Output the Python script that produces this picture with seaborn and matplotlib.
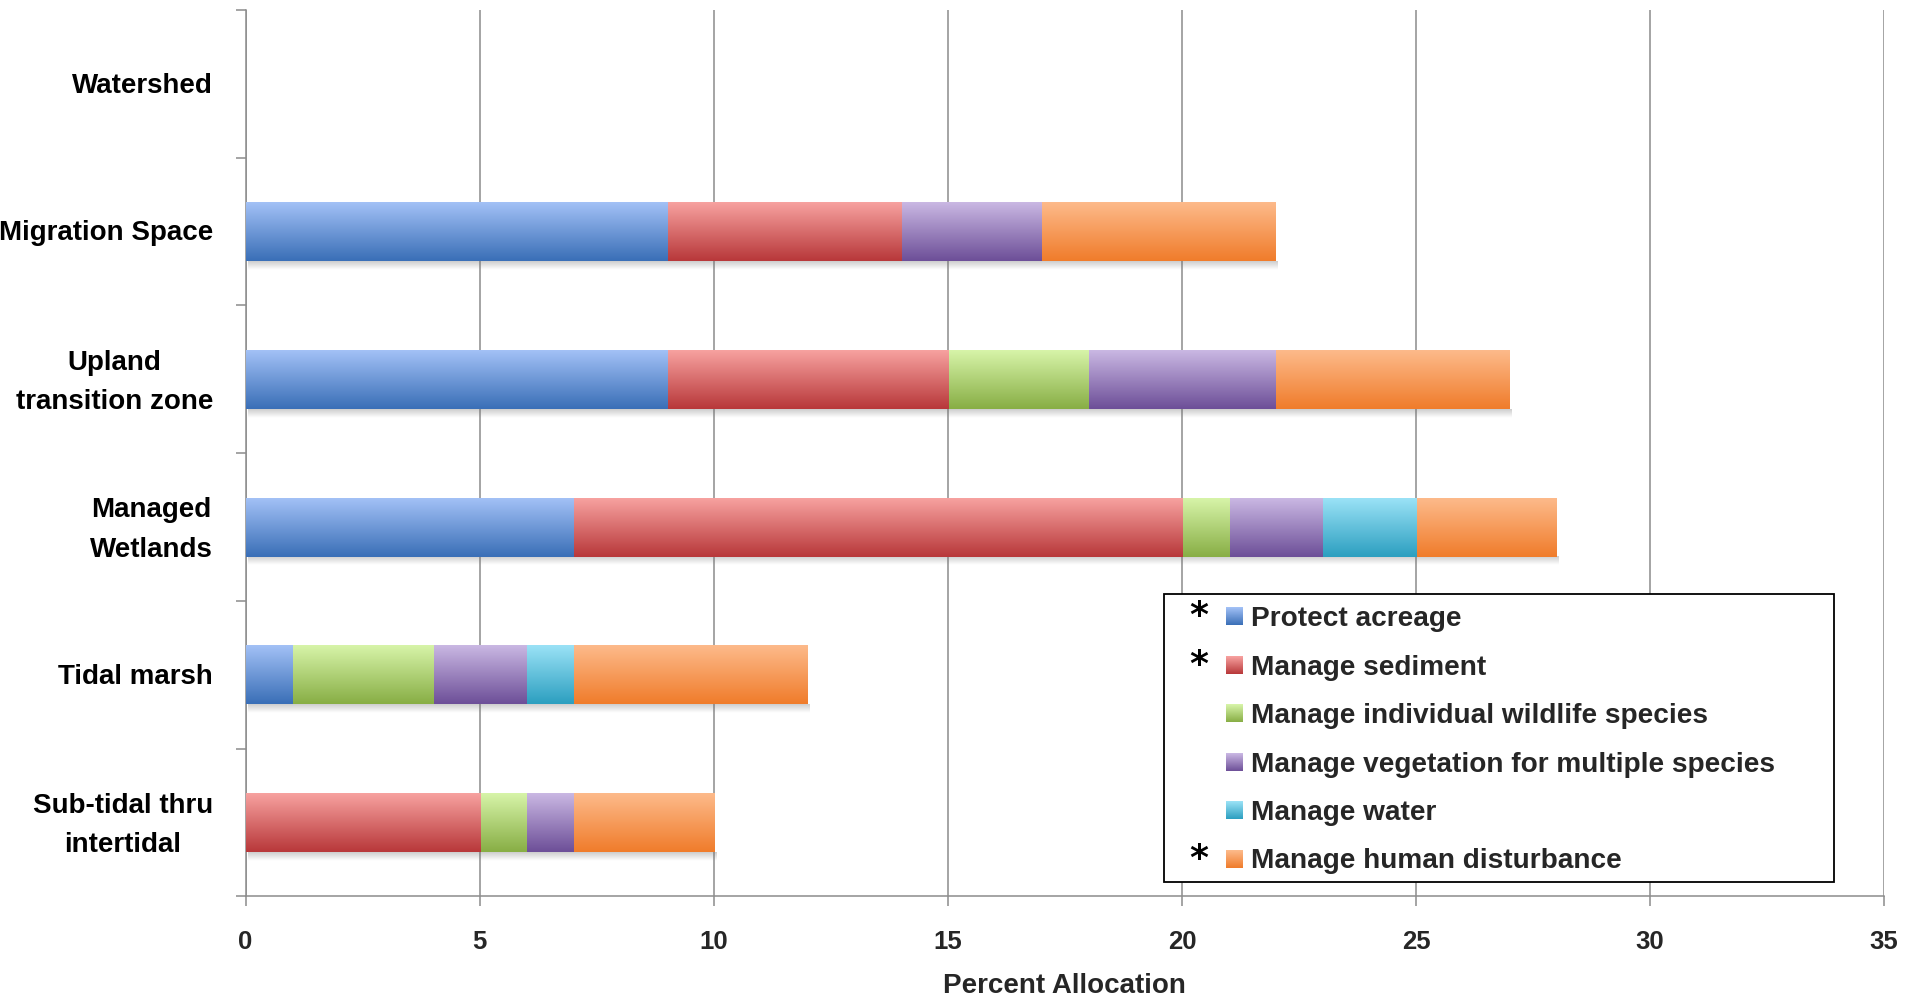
import numpy as np
import matplotlib
matplotlib.use("Agg")
import matplotlib.pyplot as plt
import seaborn as sns
from matplotlib.patches import Patch, Rectangle
from matplotlib.font_manager import FontProperties
from matplotlib.colors import to_rgb

# ---- data -------------------------------------------------------------
categories = [
    "Watershed",
    "Migration Space",
    "Upland\ntransition zone",
    "Managed\nWetlands",
    "Tidal marsh",
    "Sub-tidal thru\nintertidal",
]
series_names = [
    "Protect acreage",
    "Manage sediment",
    "Manage individual wildlife species",
    "Manage vegetation for multiple species",
    "Manage water",
    "Manage human disturbance",
]
protect_acreage = [0, 9, 9, 7, 1, 0]
manage_sediment = [0, 5, 6, 13, 0, 5]
manage_wildlife = [0, 0, 3, 1, 3, 1]
manage_vegetation = [0, 3, 4, 2, 2, 1]
manage_water = [0, 0, 0, 2, 1, 0]
manage_human = [0, 5, 5, 3, 5, 3]
starred = [True, True, False, False, False, True]
x_ticks = [0, 5, 10, 15, 20, 25, 30, 35]

# gradient fills (top colour, bottom colour) per series
top_colors = ["#a4c2f7", "#f8a3a1", "#d8f5aa", "#cbb9e4", "#9ce3f7", "#fdbb8c"]
bottom_colors = ["#3a6fb7", "#b8383a", "#88ae45", "#6d4f98", "#2c9fc0", "#f07c2b"]

values = np.array([protect_acreage, manage_sediment, manage_wildlife,
                   manage_vegetation, manage_water, manage_human], dtype=float)
cum = values.cumsum(axis=0)


def gradient(top, bottom, n=64):
    t = np.linspace(0, 1, n)[:, None]
    a = np.array(to_rgb(top))[None, :]
    b = np.array(to_rgb(bottom))[None, :]
    return (a * (1 - t) + b * t)[:, None, :]


def bold(size):
    return FontProperties(family=["Liberation Sans", "DejaVu Sans"],
                          weight="bold", size=size)


# ---- figure -----------------------------------------------------------
sns.set_style("white")
plt.rcParams["font.family"] = ["Liberation Sans", "DejaVu Sans"]
plt.rcParams["font.weight"] = "bold"

fig = plt.figure(figsize=(19.07, 9.98), dpi=100)
ax = fig.add_axes([0.1288, 0.1018, 0.9880 - 0.1288, 0.990 - 0.1018])

# stacked bars: draw cumulative totals from the outermost segment inwards
for k in reversed(range(len(series_names))):
    n0 = len(ax.patches)
    z = 3 + (len(series_names) - k)
    sns.barplot(x=cum[k], y=categories, orient="h", width=0.4,
                color=bottom_colors[k], saturation=1, ax=ax, zorder=z)
    grad = gradient(top_colors[k], bottom_colors[k])
    for p in ax.patches[n0:]:
        x0, y0, w, h = p.get_x(), p.get_y(), p.get_width(), p.get_height()
        p.set_linewidth(0)
        if w <= 0:
            continue
        im = ax.imshow(grad, extent=[x0, x0 + w, y0 + h, y0], origin="upper",
                       aspect="auto", zorder=z + 0.5, interpolation="bilinear")
        im.set_clip_path(p)
        if k == len(series_names) - 1:
            # soft drop shadow under the whole bar
            sh = np.zeros((16, 1, 4))
            sh[:, 0, :3] = 0.45
            sh[:, 0, 3] = np.linspace(0.35, 0.0, 16)
            ax.imshow(sh, extent=[x0 + 0.05, x0 + w + 0.05, y0 + h + 0.06, y0 + h],
                      origin="upper", aspect="auto", zorder=2)

ax.set_xlim(0, 35)
ax.set_ylim(5.5, -0.5)

# axes styling
grid_c = "#8c8c8c"
ax.set_axisbelow(True)
ax.xaxis.grid(True, color=grid_c, lw=1.1)
ax.yaxis.grid(False)
for s in ["top", "right"]:
    ax.spines[s].set_visible(False)
for s in ["left", "bottom"]:
    ax.spines[s].set_color(grid_c)
    ax.spines[s].set_linewidth(1.1)

ax.set_xticks(x_ticks)
ax.set_xticklabels([str(t) for t in x_ticks])
for lab in ax.get_xticklabels():
    lab.set_fontproperties(bold(18.5))
ax.tick_params(axis="x", direction="out", length=7.2, width=1.1, color=grid_c,
               pad=17, bottom=True)

# category labels, centred line by line to the left of the axis
ax.set_yticks(range(len(categories)))
ax.set_yticklabels([""] * len(categories))
ax.tick_params(axis="y", which="major", length=0, left=False)
for i, cat in enumerate(categories):
    dy = -2.2 if "\n" in cat else -1.3
    ax.annotate(cat, xy=(0, i), xycoords=("axes fraction", "data"),
                xytext=(-23.4, dy), textcoords="offset points",
                ha="right", va="center", multialignment="center",
                linespacing=1.68, fontproperties=bold(20), color="black",
                annotation_clip=False)
ax.set_yticks(np.arange(-0.5, 6.0, 1.0), minor=True)
ax.tick_params(axis="y", which="minor", direction="out", length=7.2, width=1.1,
               color=grid_c, left=True)

ax.set_xlabel("Percent Allocation", fontproperties=bold(20), labelpad=13.5)
ax.set_ylabel("")

# legend with its own frame
handles = [Patch(facecolor=bottom_colors[k], linewidth=0) for k in range(len(series_names))]
leg = ax.legend(handles, series_names, loc="upper left",
                bbox_to_anchor=(0.5984, 0.3273), bbox_transform=ax.transAxes,
                frameon=False, borderpad=0, borderaxespad=0,
                handlelength=0.6, handleheight=0.6, handletextpad=0.3,
                labelspacing=0.8, prop=bold(20.2))
leg.set_zorder(20)
ax.add_patch(Rectangle((0.5605, 0.0162), 0.9695 - 0.5605, 0.3416 - 0.0162,
                       transform=ax.transAxes, facecolor="white", edgecolor="black",
                       lw=1.3, zorder=15, clip_on=False))

fig.canvas.draw()
renderer = fig.canvas.get_renderer()
inv = fig.transFigure.inverted()
for k, p in enumerate(leg.get_patches()):
    bb = p.get_window_extent(renderer).transformed(inv)
    hax = fig.add_axes([bb.x0, bb.y0, bb.width, bb.height])
    hax.imshow(gradient(top_colors[k], bottom_colors[k]), aspect="auto",
               extent=[0, 1, 0, 1], origin="upper", interpolation="bilinear")
    hax.set_axis_off()
    if starred[k]:
        fig.text(bb.x0 - 27 / 1907, (bb.y0 + bb.y1) / 2, "*", ha="center",
                 va="center", fontsize=26, fontweight="bold",
                 family="DejaVu Sans", color="black")

fig.savefig("out.png", dpi=100)
